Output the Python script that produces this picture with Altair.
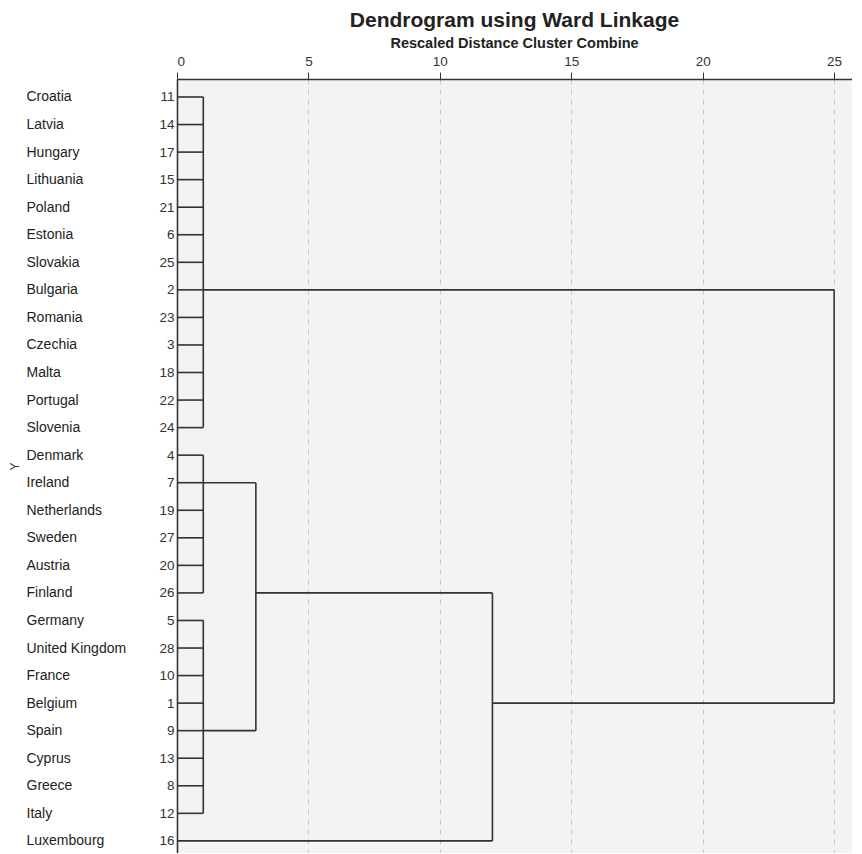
import json
import altair as alt
import pandas as pd

# ---- data -------------------------------------------------------------
names = ["Croatia", "Latvia", "Hungary", "Lithuania", "Poland", "Estonia",
         "Slovakia", "Bulgaria", "Romania", "Czechia", "Malta", "Portugal",
         "Slovenia", "Denmark", "Ireland", "Netherlands", "Sweden", "Austria",
         "Finland", "Germany", "United Kingdom", "France", "Belgium", "Spain",
         "Cyprus", "Greece", "Italy", "Luxembourg"]
case_ids = [11, 14, 17, 15, 21, 6, 25, 2, 23, 3, 18, 22, 24, 4, 7, 19, 27,
            20, 26, 5, 28, 10, 1, 9, 13, 8, 12, 16]
rows = list(range(1, len(names) + 1))

# cluster tree (children are leaf rows or earlier node names)
node_names = ["A", "B", "C", "BC", "BCL", "root"]
node_children = [list(range(1, 14)), list(range(14, 20)), list(range(20, 28)),
                 ["B", "C"], ["BC", 28], ["A", "BCL"]]
node_heights = [1, 1, 1, 3, 12, 25]
node_out_rows = [8, 15, 24, 19, 23, None]

x_ticks = [0, 5, 10, 15, 20, 25]

# ---- build segments from the tree --------------------------------------
out_row, height, segs = {}, {}, []
for n, ch, h, orow in zip(node_names, node_children, node_heights, node_out_rows):
    ys = []
    for c in ch:
        if isinstance(c, str):
            y, x0 = out_row[c], height[c]
        else:
            y, x0 = c, 0
        segs.append({"x": x0, "x2": h, "y": y, "y2": y})
        ys.append(y)
    segs.append({"x": h, "x2": h, "y": min(ys), "y2": max(ys)})
    out_row[n], height[n] = orow, h
df = pd.DataFrame(segs)

FONT = "Liberation Sans"
ids_expr = json.dumps([str(i) for i in case_ids]) + "[datum.value - 1]"
names_expr = json.dumps(names) + "[datum.value - 1]"

xscale = alt.Scale(domain=[0, 25.68], nice=False, zero=False)
yscale = alt.Scale(domain=[0.347, 28.44], reverse=True, nice=False, zero=False)

lines = alt.Chart(df).mark_rule(color="#333333", strokeWidth=1.6).encode(
    x=alt.X("x:Q", scale=xscale, axis=alt.Axis(
        orient="top", values=x_ticks, title=None, grid=True,
        gridDash=[5, 5], gridColor="#c8c8c8", gridWidth=1,
        tickSize=7, tickColor="#333", domainColor="#333", domainWidth=1.6,
        labelFontSize=13.5, labelColor="#333", labelFont=FONT,
        labelPadding=4)),
    x2="x2:Q",
    y=alt.Y("y:Q", scale=yscale, axis=alt.Axis(
        orient="left", values=rows, labelExpr=ids_expr, title=None,
        ticks=False, grid=False, domainColor="#333", domainWidth=1.6,
        labelFontSize=13.5, labelColor="#333", labelFont=FONT,
        labelPadding=3)),
    y2="y2:Q",
)

name_layer = alt.Chart(df).mark_rule(strokeOpacity=0).encode(
    x=alt.X("x:Q", scale=xscale),
    y=alt.Y("y:Q", scale=yscale, axis=alt.Axis(
        orient="left", values=rows, labelExpr=names_expr, title="Y",
        ticks=False, grid=False, domain=False, labelAlign="left",
        labelPadding=151, labelFontSize=14, labelColor="#222",
        labelFont=FONT, titleFont=FONT, titleFontSize=12,
        titleFontWeight="normal", titleColor="#333", titlePadding=5)),
)

chart = alt.layer(lines, name_layer).resolve_axis(y="independent").properties(
    width=675, height=774,
    padding={"left": 0, "top": 1, "right": 0, "bottom": 0},
    title=alt.Title("Dendrogram using Ward Linkage",
                    subtitle="Rescaled Distance Cluster Combine",
                    font=FONT, fontSize=21, fontWeight="bold", color="#222",
                    subtitleFont=FONT, subtitleFontSize=14.5,
                    subtitleFontWeight="bold", subtitleColor="#222",
                    anchor="middle", offset=4, subtitlePadding=6),
).configure_view(fill="#f3f3f3", stroke=None)

chart.save("out.html", embed_options={"renderer": "svg", "actions": False})
